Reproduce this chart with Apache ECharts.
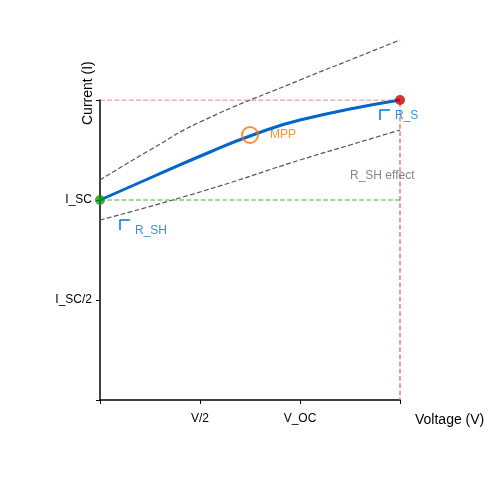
<!DOCTYPE html><html><head><script src="https://cdn.jsdelivr.net/npm/echarts@6/dist/echarts.min.js"></script></head><body style="margin:0"><div id="c" style="width:500px;height:500px"></div><script>
var xTickLabels={1:'V/2',2:'V_OC'};
var yTickLabels={1:'I_SC/2',2:'I_SC'};
var ivCurve=[[0,2],[0.5,2.22],[1.1,2.48],[1.5,2.64],[2,2.8],[3,3.0]];
var rsCurve=[[0,2.2],[0.5,2.5],[1,2.78],[2,3.2],[2.5,3.4],[3,3.6]];
var rshCurve=[[0,1.8],[1,2.08],[2,2.4],[2.5,2.55],[3,2.7]];
var rsBracket=[[2.8,2.8],[2.8,2.9],[2.9,2.9]];
var rshBracket=[[0.2,1.7],[0.2,1.8],[0.3,1.8]];
var iscPoint=[0,2], vocPoint=[3,3], mppPoint=[1.5,2.65];
var F='Liberation Sans, Arial, sans-serif';
function lbl(t,c,x,y){return {type:'scatter',symbolSize:0,silent:true,data:[[x,y]],label:{show:true,formatter:t,color:c,fontSize:12,fontFamily:F,position:'right',offset:[-5,0]}};}
var ch=echarts.init(document.getElementById('c'));
ch.setOption({animation:false,
grid:{left:100,right:100,top:100,bottom:100},
xAxis:{type:'value',min:0,max:3,interval:1,splitLine:{show:false},
 axisLine:{lineStyle:{color:'#000',width:1.5}},axisTick:{show:true,length:4,lineStyle:{color:'#000'}},
 axisLabel:{color:'#000',fontFamily:F,fontSize:12,formatter:function(v){return xTickLabels[v]||'';}},
 name:'Voltage (V)',nameLocation:'end',nameGap:15,nameTextStyle:{color:'#000',fontSize:14,fontFamily:F,verticalAlign:'top',padding:[8,0,0,0]}},
yAxis:{type:'value',min:0,max:3,interval:1,splitLine:{show:false},
 axisLine:{lineStyle:{color:'#000',width:1.5}},axisTick:{show:true,length:4,lineStyle:{color:'#000'}},
 axisLabel:{color:'#000',fontFamily:F,fontSize:12,formatter:function(v){return yTickLabels[v]||'';}},
 name:'Current (I)',nameLocation:'end',nameRotate:90,nameGap:-25,nameTextStyle:{color:'#000',fontSize:14,fontFamily:F,align:'left',verticalAlign:'bottom',padding:[0,0,0,0]}},
series:[
{type:'line',data:[[0,3],[3,3],[3,0]],symbol:'none',lineStyle:{color:'#e06060',type:'dashed',width:1.2},z:1},
{type:'line',data:[[0,2],[3,2]],symbol:'none',lineStyle:{color:'#40b040',type:'dashed',width:1.2},z:1},
{type:'line',data:rsCurve,smooth:true,symbol:'none',clip:false,lineStyle:{color:'#555',type:'dashed',width:1.2}},
{type:'line',data:rshCurve,smooth:true,symbol:'none',clip:false,lineStyle:{color:'#555',type:'dashed',width:1.2}},
{type:'line',data:ivCurve,smooth:true,symbol:'none',lineStyle:{color:'#0066cc',width:3}},
{type:'line',data:rsBracket,symbol:'none',lineStyle:{color:'#0077dd',width:1.5}},
{type:'line',data:rshBracket,symbol:'none',lineStyle:{color:'#0077dd',width:1.5}},
{type:'scatter',data:[iscPoint],symbolSize:10,itemStyle:{color:'#119911'},clip:false,z:5},
{type:'scatter',data:[vocPoint],symbolSize:10,itemStyle:{color:'#cc0000'},clip:false,z:5},
{type:'scatter',data:[mppPoint],symbolSize:16,itemStyle:{color:'none',borderColor:'#ff7700',borderWidth:2},z:5},
lbl('R_S effect','#666',2.5,3.44),
lbl('R_SH effect','#666',2.5,2.24),
lbl('V_OC','#cc0000',3.2,3.0),
lbl('MPP','#ff7700',1.7,2.65),
lbl('I_SC','#119911',-0.2,1.85),
lbl('R_S','#0077dd',2.95,2.84),
lbl('R_SH','#0077dd',0.35,1.69)
]});
</script></body></html>
